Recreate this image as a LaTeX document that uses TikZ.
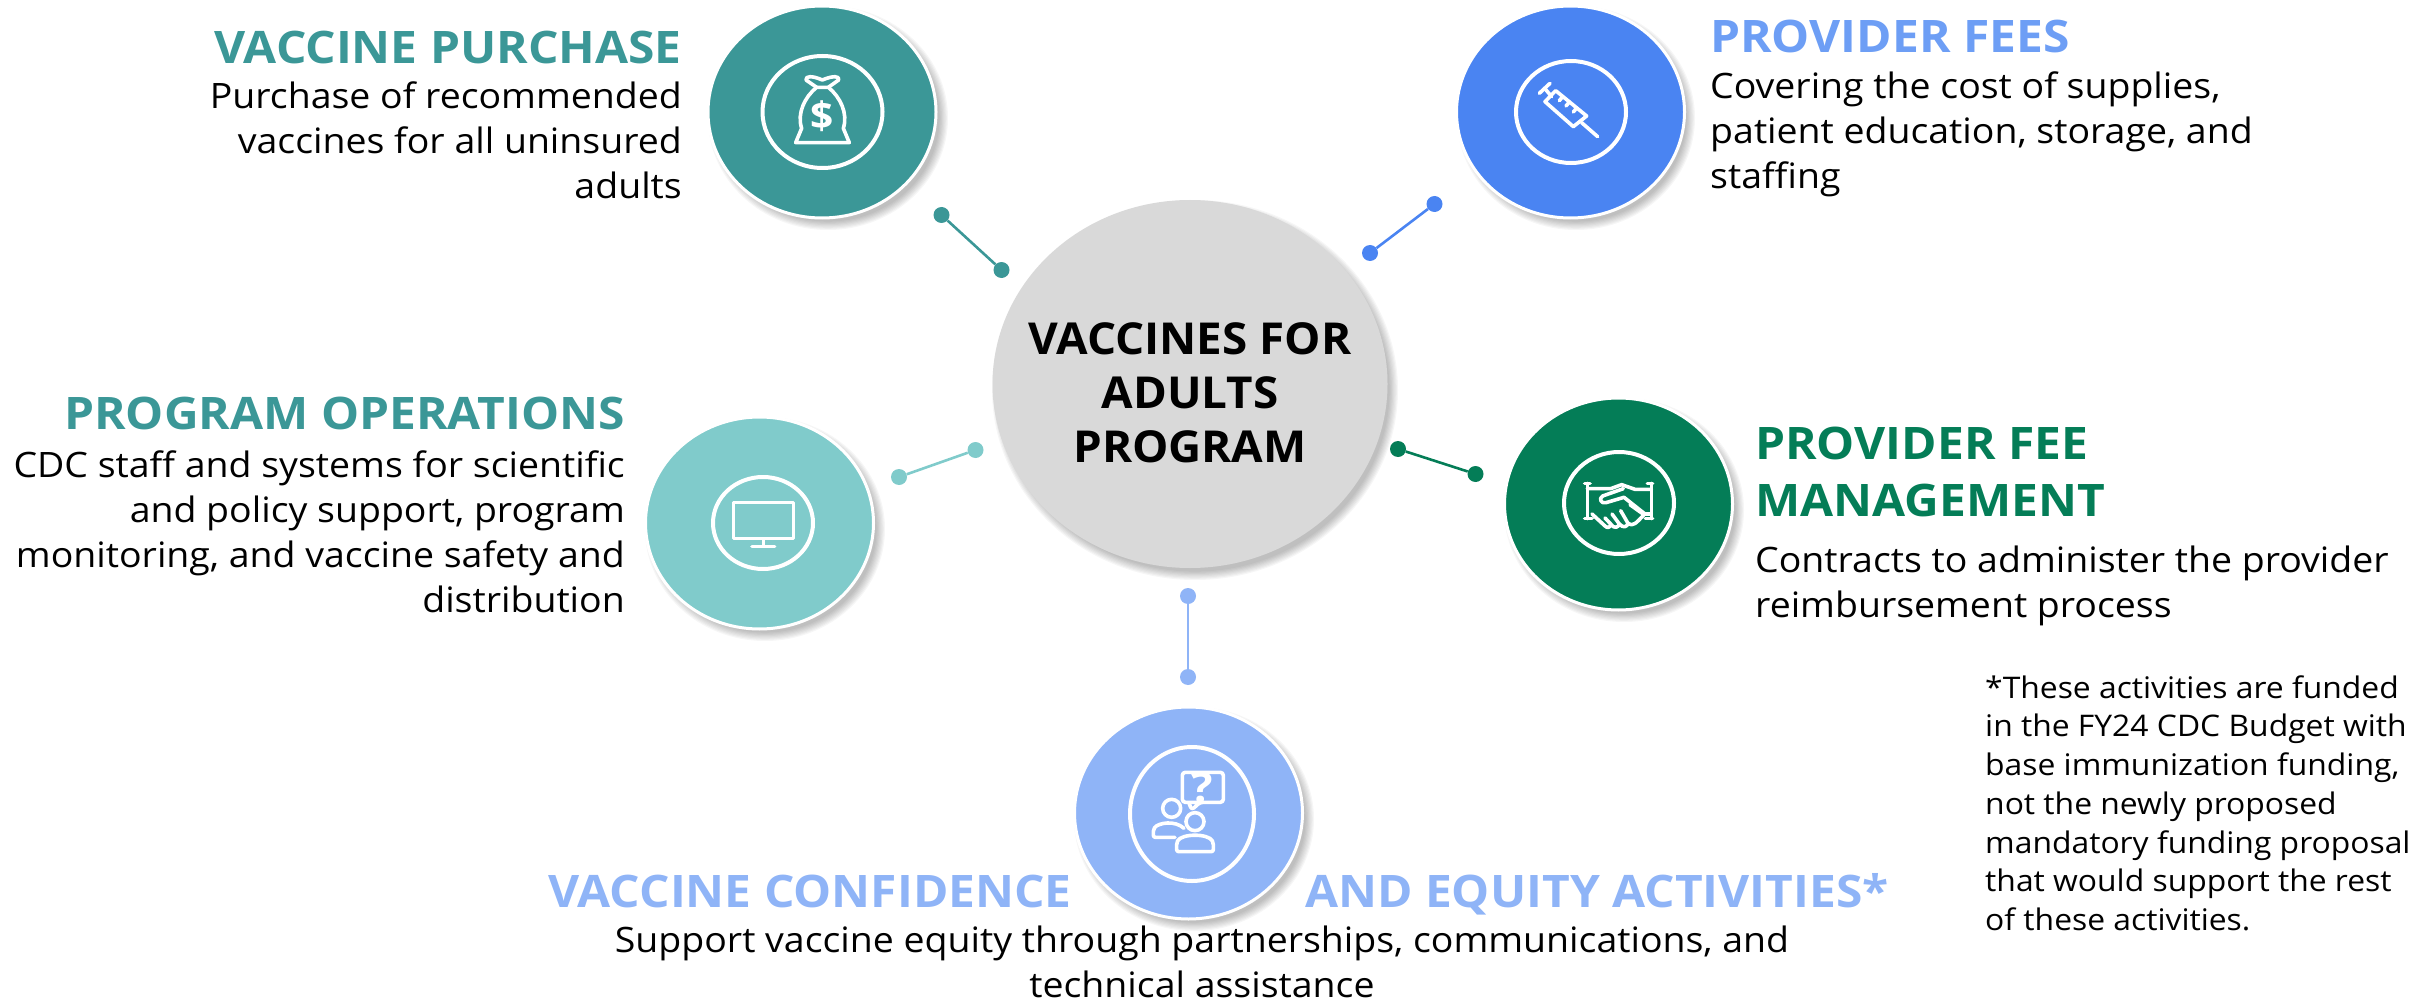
\documentclass[tikz,border=0pt]{standalone}
\usepackage{fontspec}
\setmainfont{Open Sans}[FakeStretch=1.07]
\newfontfamily\centerfont{Open Sans}[FakeStretch=1.04]
\usetikzlibrary{shapes.geometric}
\definecolor{cTeal}{HTML}{3B9797}
\definecolor{cBlue}{HTML}{4A84F2}
\definecolor{cBlueT}{HTML}{6D9EF5}
\definecolor{cLTeal}{HTML}{80CBCB}
\definecolor{cGreen}{HTML}{047D57}
\definecolor{cLBlue}{HTML}{8FB4F7}
\definecolor{cGrey}{HTML}{D9D9D9}
\newcommand{\softshadow}[4]{% cx cy rx ry
  \foreach \k in {0,...,7}{
    \fill[black,opacity=0.035] (#1+5,#2+6) ellipse [x radius=#3+6-1.2*\k, y radius=#4+6-1.2*\k];
  }}
\tikzset{
  x=1pt,y=-1pt,
  blob/.style={ellipse,draw=white,line width=3pt,inner sep=0pt,minimum width=228pt,minimum height=212pt},
  ring/.style={draw=white,line width=4pt},
  ico/.style={draw=white,line width=3.6pt,line join=round,line cap=round},
  dot/.style={circle,inner sep=0pt,minimum size=16pt},
  link/.style={line width=2.6pt},
  head/.style={font=\fontsize{44.8}{50}\selectfont\bfseries,inner sep=0pt},
  body/.style={font=\fontsize{35}{44.7}\selectfont,inner sep=0pt},
  note/.style={font=\fontsize{29.75}{38.7}\selectfont,inner sep=0pt,align=left},
}
\begin{document}
\begin{tikzpicture}
\useasboundingbox (0,0) rectangle (2423,1003);

% shadows
\softshadow{823}{112}{114}{106}
\softshadow{1571}{112}{113}{106}
\softshadow{760}{523}{114}{106}
\softshadow{1619}{504}{114}{106}
\softshadow{1189}{813}{114}{106}
\softshadow{1190}{384}{197}{184}

% centre
\node[ellipse,fill=cGrey,inner sep=0pt,minimum width=395pt,minimum height=368pt] (hub) at (1190,384) {};
\node[inner sep=0pt,align=center,font=\fontsize{44}{54}\selectfont\centerfont\bfseries] (hubtext) at (1190,393)
  {VACCINES FOR\\ADULTS\\PROGRAM};

% satellites
\node[blob,fill=cTeal] (purchase) at (822,112) {};
\node[blob,fill=cBlue] (fees) at (1570.5,112) {};
\node[blob,fill=cLTeal] (ops) at (759.5,523) {};
\node[blob,fill=cGreen] (mgmt) at (1618.5,504) {};
\node[blob,fill=cLBlue] (conf) at (1188.5,813) {};

% rings
\node[ellipse,ring,inner sep=0pt,minimum width=120pt,minimum height=112pt] (rpurchase) at (822.5,112) {};
\node[ellipse,ring,inner sep=0pt,minimum width=110pt,minimum height=102pt] (rfees) at (1571,112) {};
\node[ellipse,ring,inner sep=0pt,minimum width=100pt,minimum height=92pt] (rops) at (763,523) {};
\node[ellipse,ring,inner sep=0pt,minimum width=110pt,minimum height=102pt] (rmgmt) at (1619,503) {};
\node[ellipse,ring,inner sep=0pt,minimum width=124pt,minimum height=134pt] (rconf) at (1192,814) {};

% connectors
\node[dot,fill=cTeal] (d1a) at (941.5,215) {};
\node[dot,fill=cTeal] (d1b) at (1001.5,270) {};
\draw[link,cTeal] (d1a) -- (d1b);
\node[dot,fill=cBlue] (d2a) at (1434.5,204) {};
\node[dot,fill=cBlue] (d2b) at (1370,253) {};
\draw[link,cBlue] (d2a) -- (d2b);
\node[dot,fill=cLTeal] (d3a) at (975.5,450) {};
\node[dot,fill=cLTeal] (d3b) at (899,477) {};
\draw[link,cLTeal] (d3a) -- (d3b);
\node[dot,fill=cGreen] (d4a) at (1398,449) {};
\node[dot,fill=cGreen] (d4b) at (1475.5,474) {};
\draw[link,cGreen] (d4a) -- (d4b);
\node[dot,fill=cLBlue] (d5a) at (1188,596) {};
\node[dot,fill=cLBlue] (d5b) at (1188,677) {};
\draw[link,cLBlue] (d5a) -- (d5b);

% money bag
\begin{scope}[shift={(680,0)},x=0.3333pt,y=-0.3333pt]
\draw[ico] (347,428) -- (508,428) -- (490,385) .. controls (505,340) and (480,290) .. (445,262) -- (410,262)
  .. controls (375,290) and (350,340) .. (365,385) -- cycle;
\draw[ico] (410,262) -- (378,240) .. controls (376,228) and (395,226) .. (427,240)
  .. controls (460,226) and (480,228) .. (476,240) -- (445,262);
\node[text=white,inner sep=0pt,font=\fontsize{38}{38}\selectfont\bfseries] (dollar) at (427,350) {\$};
\end{scope}

% syringe
\begin{scope}[shift={(1440,0)},x=0.3333pt,y=-0.3333pt]
\draw[ico] (298,280) -- (330,250);
\draw[ico] (314,265) -- (335,290);
\draw[ico] (315,305) -- (347,272) -- (440,348) -- (400,380) -- cycle;
\draw[ico] (368,290) -- (358,302);
\draw[ico] (388,306) -- (378,318);
\draw[ico] (410,324) -- (400,336);
\draw[ico] (425,368) -- (473,410);
\end{scope}

% monitor
\begin{scope}[shift={(630,400)},x=0.3333pt,y=-0.3333pt]
\draw[ico,line cap=butt] (310,308) rectangle (490,416);
\draw[ico,line cap=butt] (400,416) -- (400,438);
\draw[ico] (366,440) -- (434,440);
\end{scope}

% handshake
\begin{scope}[shift={(1490,390)},x=0.3333pt,y=-0.3333pt]
\draw[ico] (284,280) -- (300,280) (292,280) -- (292,386) (284,386) -- (306,386);
\draw[ico] (472,280) -- (488,280) (484,280) -- (484,386) (466,386) -- (488,386);
\draw[ico] (292,296) -- (362,296) -- (395,284) -- (435,298) -- (484,298);
\draw[ico] (400,296) -- (338,318) .. controls (326,325) and (332,342) .. (348,338) -- (402,322) -- (465,372) -- (484,372);
\draw[ico] (306,372) -- (345,408) .. controls (352,416) and (362,412) .. (362,402) -- (345,384);
\draw[ico] (362,402) .. controls (372,418) and (386,412) .. (388,402) -- (366,372);
\draw[ico] (388,402) .. controls (400,416) and (412,410) .. (414,400) -- (392,362);
\draw[ico] (414,400) .. controls (428,412) and (440,398) .. (462,374) -- (420,344);
\end{scope}

% people and question bubble
\begin{scope}[shift={(1060,700)},x=0.3333pt,y=-0.3333pt]
\draw[ico,rounded corners=3pt] (420,307) -- (367,307) -- (367,217) -- (490,217) -- (490,307) -- (420,307) -- (395,330) -- (388,312);
\node[text=white,inner sep=0pt,font=\fontsize{42}{42}\selectfont\bfseries] (qmark) at (426,262) {?};
\draw[ico] (335,325) circle [radius=9pt];
\draw[ico,rounded corners=2pt] (345,412) -- (280,412) -- (280,388) .. controls (295,368) and (345,360) .. (372,385);
\draw[ico] (405,365) circle [radius=9pt];
\draw[ico,rounded corners=2pt] (350,455) -- (350,428) .. controls (365,400) and (445,400) .. (460,428) -- (460,455) -- cycle;
\end{scope}

% texts
\node[head,text=cTeal,anchor=base east] (t1) at (682,64) {VACCINE PURCHASE};
\node[body,anchor=north east,align=right] (b1) at (682,77.5) {\strut Purchase of recommended\\vaccines for all uninsured\\adults};

\node[head,text=cBlueT,anchor=base west] (t2) at (1710,53) {PROVIDER FEES};
\node[body,anchor=north west,align=left] (b2) at (1710,67.5) {\strut Covering the cost of supplies,\\patient education, storage, and\\staffing};

\node[head,text=cTeal,anchor=base east] (t3) at (625,429) {PROGRAM OPERATIONS};
\node[body,anchor=north east,align=right] (b3) at (625,446.5) {\strut CDC staff and systems for scientific\\and policy support, program\\monitoring, and vaccine safety and\\distribution};

\node[head,text=cGreen,anchor=base west] (t4a) at (1755,459) {PROVIDER FEE};
\node[head,text=cGreen,anchor=base west] (t4b) at (1755,516) {MANAGEMENT};
\node[body,anchor=north west,align=left] (b4) at (1755,541.5) {\strut Contracts to administer the provider\\reimbursement process};

\node[head,text=cLBlue,anchor=base east] (t5a) at (1072,907) {VACCINE CONFIDENCE};
\node[head,text=cLBlue,anchor=base west] (t5b) at (1305,907) {AND EQUITY ACTIVITIES*};
\node[body,anchor=north,align=center] (b5) at (1202,921.5) {\strut Support vaccine equity through partnerships, communications, and\\technical assistance};

\node[note,anchor=north west] (fn) at (1985,671) {\strut *These activities are funded\\in the FY24 CDC Budget with\\base immunization funding,\\not the newly proposed\\mandatory funding proposal\\that would support the rest\\of these activities.};
\end{tikzpicture}
\end{document}
